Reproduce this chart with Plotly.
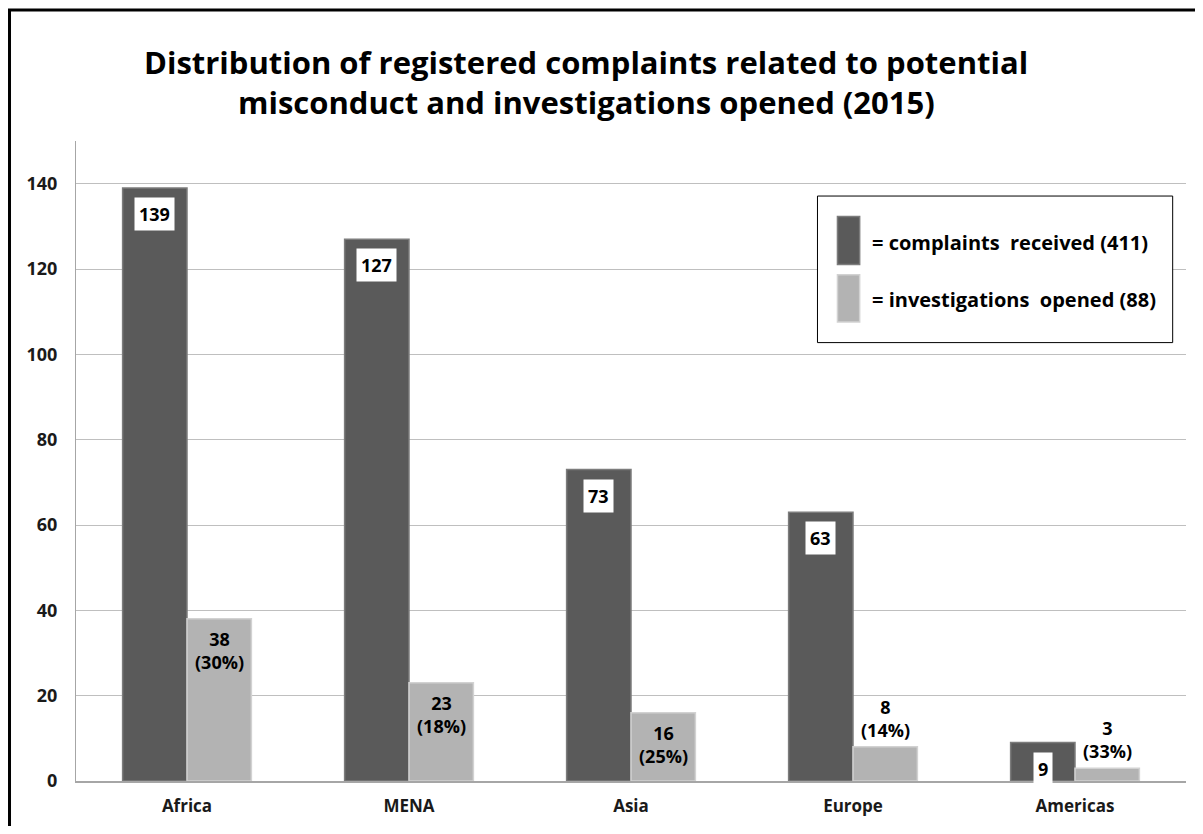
import plotly.graph_objects as go

regions = ["Africa", "MENA", "Asia", "Europe", "Americas"]
complaints = [139, 127, 73, 63, 9]
investigations = [38, 23, 16, 8, 3]
invest_pct = ["30%", "18%", "25%", "14%", "33%"]
complaints_name = "complaints  received"
invest_name = "investigations  opened"
title_lines = ["Distribution of registered complaints related to potential",
               "misconduct and investigations opened (2015)"]

FONT = "Open Sans"
DARK = "#5a5a5a"
LIGHT = "#b3b3b3"

fig = go.Figure()
fig.add_trace(go.Bar(x=regions, y=complaints, name=complaints_name,
                     marker=dict(color=DARK, line=dict(color="#7c7c7c", width=1.5)),
                     showlegend=False, hoverinfo="x+y"))
fig.add_trace(go.Bar(x=regions, y=investigations, name=invest_name,
                     marker=dict(color=LIGHT, line=dict(color="#d2d2d2", width=1.5)),
                     showlegend=False, hoverinfo="x+y"))

ann = []
off = 0.145
for i, v in enumerate(complaints):
    ann.append(dict(x=i - off, y=v, xref="x", yref="y", text=str(v), showarrow=False,
                    yanchor="middle", yshift=-26, bgcolor="white",
                    borderpad=4,
                    font=dict(family=FONT, size=18, color="black", weight="bold")))
for i, (v, p) in enumerate(zip(investigations, invest_pct)):
    inside = v >= 10
    ann.append(dict(x=i + off, y=v, xref="x", yref="y", text=f"{v}<br>({p})", showarrow=False,
                    yanchor="top" if inside else "bottom",
                    yshift=-6 if inside else 3,
                    font=dict(family=FONT, size=18, color="black", weight="bold")))

# title as two lines
for txt, yy in zip(title_lines, [1.123, 1.0607]):
    ann.append(dict(x=0.4595, y=yy, xref="paper", yref="paper", xanchor="center", yanchor="middle",
                    text=txt, showarrow=False,
                    font=dict(family=FONT, size=31, color="black", weight="bold")))

# legend drawn manually
ann.append(dict(x=0.715, y=0.841, xref="paper", yref="paper", xanchor="left", yanchor="middle",
                text=f"= {complaints_name} ({sum(complaints)})", showarrow=False,
                font=dict(family=FONT, size=20, color="black", weight="bold")))
ann.append(dict(x=0.715, y=0.752, xref="paper", yref="paper", xanchor="left", yanchor="middle",
                text=f"= {invest_name} ({sum(investigations)})", showarrow=False,
                font=dict(family=FONT, size=20, color="black", weight="bold")))

shapes = [
    dict(type="rect", xref="paper", yref="paper", x0=0.668, x1=0.988, y0=0.685, y1=0.914,
         line=dict(color="black", width=1), fillcolor="white", layer="above"),
    dict(type="rect", xref="paper", yref="paper", x0=0.686, x1=0.706, y0=0.807, y1=0.882,
         line=dict(color="#7c7c7c", width=1.5), fillcolor=DARK, layer="above"),
    dict(type="rect", xref="paper", yref="paper", x0=0.686, x1=0.706, y0=0.717, y1=0.791,
         line=dict(color="#d2d2d2", width=1.5), fillcolor=LIGHT, layer="above"),
    dict(type="rect", xref="paper", yref="paper", x0=-0.0599, x1=1.05, y0=-0.2, y1=1.2048,
         line=dict(color="black", width=3), fillcolor="rgba(0,0,0,0)", layer="above"),
]

fig.update_layout(
    width=1187, height=818,
    margin=dict(l=68, r=9, t=133, b=43),
    paper_bgcolor="white", plot_bgcolor="white",
    barmode="group", bargap=0.42, bargroupgap=0,
    annotations=ann, shapes=shapes,
    xaxis=dict(showgrid=False, showline=True, linecolor="#a6a6a6", linewidth=1.5,
               tickfont=dict(family=FONT, size=17, color="#1a1a1a", weight="bold"),
               ticks="", ticklabelstandoff=9),
    yaxis=dict(range=[0, 150], dtick=20, showgrid=True, gridcolor="#bfbfbf", gridwidth=1,
               showline=True, linecolor="#a6a6a6", linewidth=1, zeroline=False,
               tickfont=dict(family=FONT, size=18, color="#1a1a1a", weight="bold"),
               ticks="", ticklabelstandoff=14),
)

fig.write_html("out.html")
